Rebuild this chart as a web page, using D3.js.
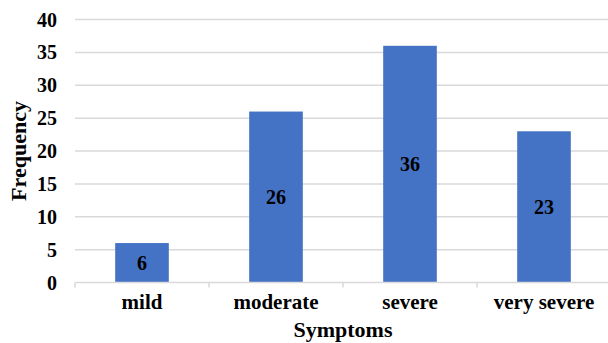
<!DOCTYPE html>
<html><head><meta charset="utf-8">
<script src="https://cdn.jsdelivr.net/npm/d3@7"></script>
<style>body{margin:0;background:#fff}svg{display:block}text{font-family:"Liberation Serif","Times New Roman",serif;font-weight:bold;fill:#000}</style>
</head><body><svg id="c" width="608" height="343"></svg>
<script>
const categories = ["mild", "moderate", "severe", "very severe"];
const values = [6, 26, 36, 23];
const yTicks = [0, 5, 10, 15, 20, 25, 30, 35, 40];
const xTitle = "Symptoms";
const yTitle = "Frequency";

const svg = d3.select("#c");
const mL = 75, mR = 611, mT = 19.5, mB = 282.5;
const x = d3.scaleBand().domain(categories).range([mL, mR]).paddingInner(0.6).paddingOuter(0.3);
const xb = d3.scaleBand().domain(categories).range([mL, mR]).padding(0);
const y = d3.scaleLinear().domain([0, 40]).range([mB, mT]);

// gridlines
svg.append("g").selectAll("line").data(yTicks.filter(d => d > 0)).join("line")
  .attr("x1", mL).attr("x2", 608).attr("y1", d => y(d)).attr("y2", d => y(d))
  .attr("stroke", "#d9d9d9").attr("stroke-width", 1.5);

// y tick labels
svg.append("g").selectAll("text").data(yTicks).join("text")
  .attr("x", 57).attr("y", d => y(d)).attr("text-anchor", "end").attr("dy", "0.35em")
  .style("font-size", "20px").text(d => d);

// bars
svg.append("g").selectAll("rect").data(values).join("rect")
  .attr("x", (d, i) => x(categories[i])).attr("width", x.bandwidth())
  .attr("y", d => y(d)).attr("height", d => y(0) - y(d)).attr("fill", "#4472C4");

// bar labels
svg.append("g").selectAll("text").data(values).join("text")
  .attr("x", (d, i) => x(categories[i]) + x.bandwidth() / 2)
  .attr("y", d => (y(d) + y(0)) / 2).attr("dy", "0.35em").attr("text-anchor", "middle")
  .style("font-size", "20px").text(d => d);

// x axis line and ticks
svg.append("line").attr("x1", mL).attr("x2", 608).attr("y1", mB).attr("y2", mB)
  .attr("stroke", "#d9d9d9").attr("stroke-width", 1.5);
const bounds = categories.map(c => xb(c)).concat([mR]);
svg.append("g").selectAll("line").data(bounds).join("line")
  .attr("x1", d => d).attr("x2", d => d).attr("y1", mB).attr("y2", mB + 5)
  .attr("stroke", "#d9d9d9").attr("stroke-width", 1.5);

// category labels
svg.append("g").selectAll("text").data(categories).join("text")
  .attr("x", d => x(d) + x.bandwidth() / 2).attr("y", 309).attr("text-anchor", "middle")
  .style("font-size", "21px").text(d => d);

// titles
svg.append("text").attr("x", (mL + mR) / 2).attr("y", 337).attr("text-anchor", "middle")
  .style("font-size", "22px").text(xTitle);
svg.append("text").attr("transform", `translate(26,${(mT + mB) / 2}) rotate(-90)`)
  .attr("text-anchor", "middle").style("font-size", "22px").text(yTitle);
</script></body></html>
